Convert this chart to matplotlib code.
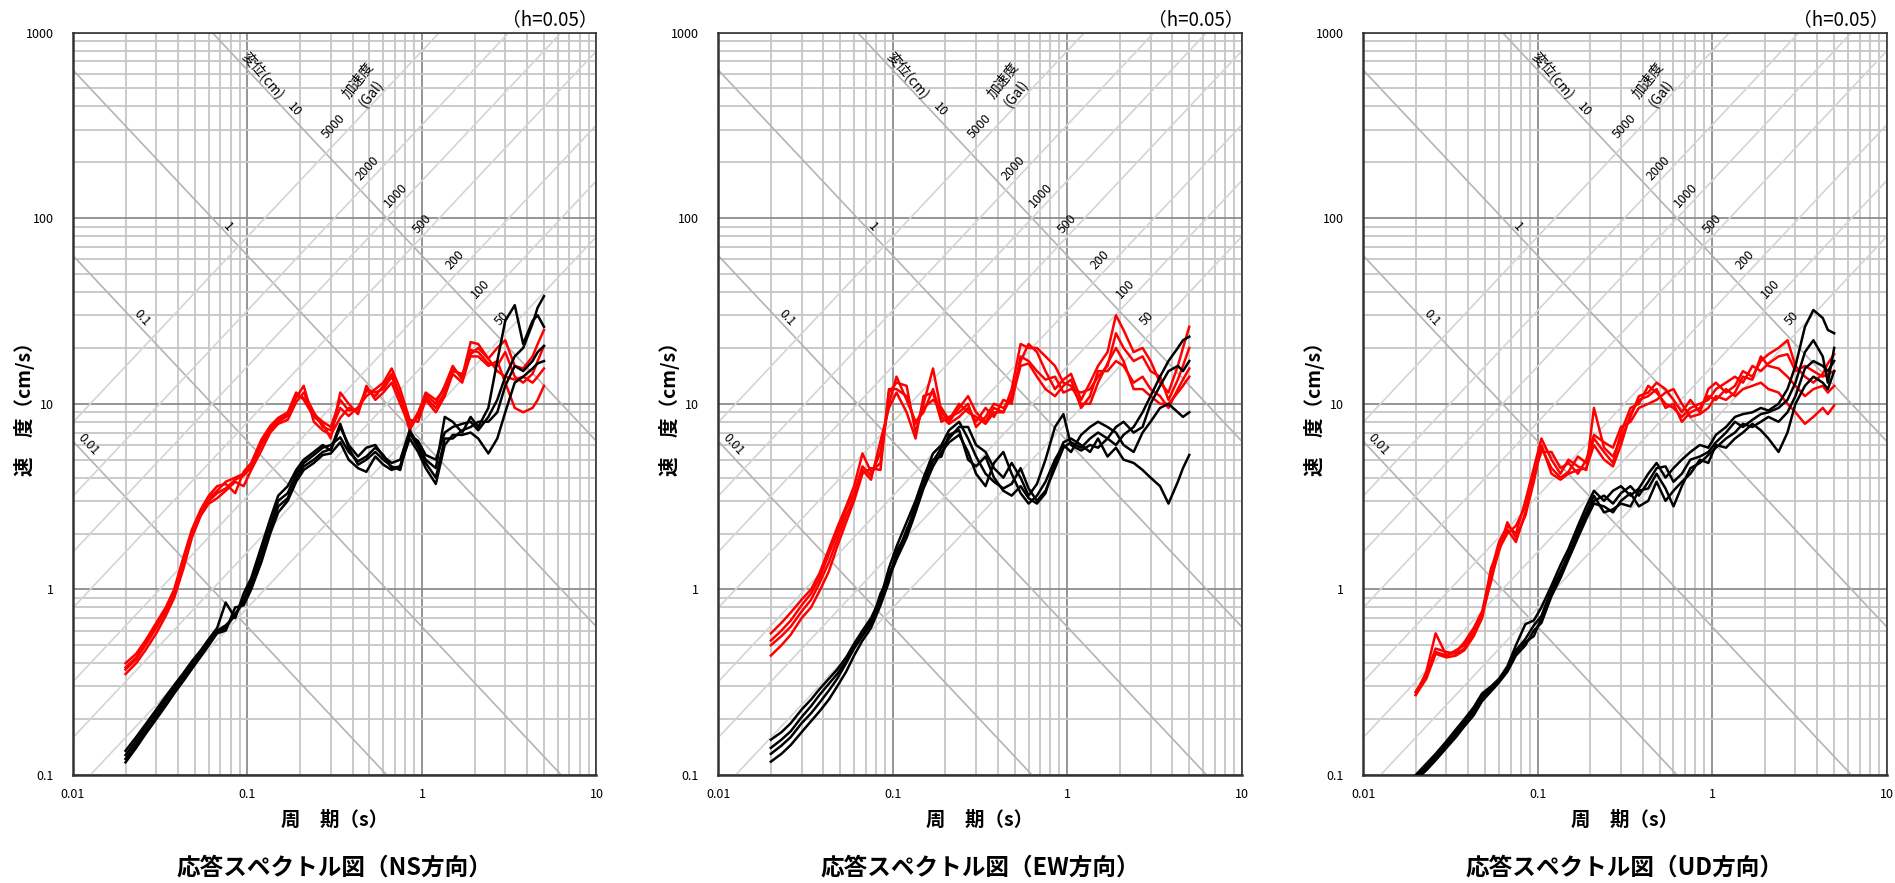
import numpy as np
import matplotlib
matplotlib.use("Agg")
import matplotlib.pyplot as plt
from matplotlib.ticker import FixedLocator, LogLocator, NullFormatter

plt.rcParams['font.family'] = ['Noto Sans CJK JP', 'DejaVu Sans']

# periods (s)
period = [0.02, 0.023, 0.026, 0.03, 0.034, 0.038, 0.043, 0.048, 0.054, 0.06,
          0.067, 0.075, 0.085, 0.095, 0.105, 0.12, 0.135, 0.15, 0.17, 0.19,
          0.21, 0.24, 0.27, 0.3, 0.34, 0.38, 0.43, 0.48, 0.54, 0.6,
          0.67, 0.75, 0.85, 0.95, 1.05, 1.2, 1.35, 1.5, 1.7, 1.9,
          2.1, 2.4, 2.7, 3.0, 3.4, 3.8, 4.3, 4.6, 5.0]

# ---- NS ----
ns_red = [
    [0.37, 0.42, 0.50, 0.62, 0.76, 0.95, 1.40, 2.00, 2.60, 3.00,
     3.30, 3.50, 3.90, 4.10, 4.60, 6.00, 7.20, 8.00, 8.60, 10.8,
     12.5, 8.00, 7.20, 6.80, 8.40, 9.50, 9.00, 11.8, 11.0, 12.5,
     14.5, 11.0, 7.80, 8.50, 10.8, 9.50, 11.5, 15.5, 14.0, 21.5,
     21.0, 17.5, 20.0, 22.0, 16.0, 15.5, 18.0, 21.0, 25.0],
    [0.40, 0.45, 0.53, 0.66, 0.80, 1.00, 1.50, 2.10, 2.70, 3.20,
     3.60, 3.70, 3.30, 4.30, 4.80, 6.40, 7.60, 8.40, 9.00, 11.5,
     10.5, 8.50, 7.80, 6.50, 11.5, 10.0, 8.80, 12.5, 10.5, 11.5,
     13.0, 10.0, 7.50, 9.00, 11.2, 10.0, 12.5, 16.0, 13.5, 19.5,
     19.0, 16.5, 16.0, 19.0, 14.0, 13.0, 14.5, 17.0, 20.5],
    [0.35, 0.40, 0.47, 0.58, 0.72, 0.90, 1.30, 1.90, 2.50, 2.90,
     3.10, 3.40, 3.80, 3.60, 4.40, 5.60, 7.00, 7.80, 8.20, 10.2,
     11.5, 9.00, 7.50, 7.20, 9.50, 8.60, 9.60, 11.0, 12.0, 13.0,
     15.5, 12.0, 8.20, 8.00, 10.5, 9.00, 11.0, 14.5, 13.0, 18.5,
     20.0, 17.5, 15.0, 14.0, 13.5, 14.0, 13.0, 14.0, 15.5],
    [0.38, 0.43, 0.51, 0.63, 0.78, 0.97, 1.45, 2.00, 2.60, 3.10,
     3.40, 3.80, 4.00, 4.20, 4.50, 6.20, 7.30, 8.20, 8.80, 11.0,
     10.8, 8.80, 8.00, 7.50, 10.5, 9.20, 9.40, 12.0, 11.5, 12.0,
     14.0, 10.8, 7.20, 8.80, 11.5, 10.5, 12.0, 15.0, 14.5, 18.0,
     18.0, 16.0, 17.0, 13.0, 9.50, 9.00, 9.50, 10.5, 12.5],
]
ns_black = [
    [0.135, 0.160, 0.187, 0.225, 0.265, 0.305, 0.355, 0.410, 0.470, 0.540,
     0.620, 0.850, 0.700, 0.950, 1.15, 1.70, 2.40, 3.20, 3.60, 4.40,
     5.00, 5.50, 6.00, 5.60, 7.50, 6.00, 5.20, 5.80, 6.00, 5.20,
     4.80, 5.00, 7.20, 6.00, 5.00, 4.50, 8.50, 8.00, 7.00, 8.50,
     7.50, 9.50, 17.0, 28.0, 34.0, 21.0, 28.0, 30.0, 26.0],
    [0.128, 0.153, 0.180, 0.216, 0.255, 0.295, 0.345, 0.398, 0.460, 0.525,
     0.600, 0.640, 0.720, 0.880, 1.10, 1.60, 2.20, 3.00, 3.30, 4.20,
     4.80, 5.30, 5.80, 6.00, 6.60, 5.50, 4.90, 5.20, 5.80, 5.30,
     4.50, 4.60, 6.80, 6.30, 5.30, 5.00, 7.00, 7.50, 7.80, 8.00,
     7.20, 8.50, 10.5, 14.0, 18.0, 20.0, 27.0, 33.0, 38.0],
    [0.122, 0.146, 0.172, 0.207, 0.244, 0.283, 0.332, 0.383, 0.445, 0.510,
     0.590, 0.620, 0.740, 0.850, 1.05, 1.50, 2.10, 2.80, 3.10, 4.00,
     4.60, 5.00, 5.50, 5.70, 7.80, 5.80, 4.70, 5.00, 5.50, 5.00,
     4.60, 4.40, 7.00, 5.80, 4.80, 4.00, 6.50, 6.50, 7.20, 7.50,
     8.00, 8.00, 9.00, 12.5, 16.0, 15.0, 17.0, 19.0, 20.5],
    [0.117, 0.140, 0.166, 0.200, 0.236, 0.275, 0.322, 0.373, 0.435, 0.500,
     0.580, 0.600, 0.800, 0.820, 1.00, 1.40, 2.00, 2.60, 3.00, 3.80,
     4.40, 4.80, 5.30, 5.40, 6.20, 5.00, 4.50, 4.30, 5.20, 4.70,
     4.40, 4.60, 6.50, 5.50, 4.50, 3.70, 6.00, 6.80, 6.80, 7.00,
     6.50, 5.40, 6.50, 9.00, 13.0, 14.0, 15.5, 16.5, 17.0],
]

# ---- EW ----
ew_red = [
    [0.58, 0.66, 0.75, 0.88, 1.00, 1.22, 1.65, 2.15, 2.80, 3.60,
     5.40, 4.30, 4.80, 11.5, 13.0, 12.5, 7.00, 10.0, 15.5, 9.00,
     8.00, 9.50, 11.0, 9.00, 8.00, 9.50, 9.00, 11.0, 17.0, 21.0,
     19.0, 15.0, 12.0, 13.5, 14.5, 10.5, 13.0, 16.0, 19.0, 30.0,
     25.0, 19.0, 20.0, 17.0, 13.0, 11.5, 16.0, 20.0, 26.0],
    [0.53, 0.60, 0.68, 0.82, 0.95, 1.15, 1.55, 2.00, 2.70, 3.30,
     4.60, 4.10, 5.50, 10.0, 14.0, 10.5, 8.00, 9.00, 12.0, 8.50,
     7.80, 8.50, 9.50, 8.00, 9.50, 8.50, 10.5, 10.0, 18.0, 17.0,
     15.0, 13.5, 14.0, 11.5, 12.0, 11.5, 12.0, 14.0, 16.0, 24.0,
     20.0, 17.0, 18.0, 15.0, 14.0, 10.5, 13.5, 16.0, 20.0],
    [0.50, 0.56, 0.63, 0.76, 0.88, 1.08, 1.40, 1.85, 2.50, 3.10,
     4.40, 3.90, 6.30, 9.50, 11.5, 9.00, 6.50, 11.0, 11.5, 8.00,
     8.50, 9.00, 10.0, 7.50, 8.50, 10.0, 9.50, 10.5, 16.0, 16.5,
     14.0, 12.0, 11.0, 12.5, 13.5, 9.50, 11.0, 15.0, 15.0, 17.0,
     16.0, 13.0, 14.0, 12.0, 11.0, 9.50, 12.0, 13.5, 15.5],
    [0.44, 0.50, 0.57, 0.70, 0.80, 0.98, 1.25, 1.70, 2.30, 3.00,
     4.20, 4.50, 4.40, 12.0, 12.0, 11.0, 7.80, 9.50, 10.5, 9.50,
     8.20, 10.0, 9.00, 8.50, 7.80, 9.00, 9.00, 12.0, 21.0, 20.0,
     20.0, 18.0, 16.0, 13.0, 12.5, 10.0, 10.0, 13.0, 16.5, 20.0,
     17.0, 12.0, 12.0, 11.0, 10.0, 10.0, 11.5, 12.5, 14.0],
]
ew_black = [
    [0.155, 0.170, 0.190, 0.225, 0.255, 0.290, 0.330, 0.370, 0.430, 0.510,
     0.600, 0.700, 0.900, 1.30, 1.70, 2.30, 3.00, 4.00, 5.40, 6.00,
     7.20, 8.00, 6.50, 5.20, 4.20, 3.80, 3.50, 3.70, 4.50, 3.50,
     3.00, 3.40, 4.50, 5.80, 6.20, 5.80, 6.50, 7.00, 6.50, 6.00,
     6.80, 7.50, 9.00, 11.0, 14.0, 17.0, 20.0, 22.0, 23.0],
    [0.140, 0.155, 0.172, 0.205, 0.235, 0.270, 0.310, 0.350, 0.410, 0.490,
     0.570, 0.680, 0.850, 1.20, 1.50, 2.10, 2.70, 3.70, 4.90, 5.80,
     6.50, 7.50, 7.50, 6.00, 5.50, 4.50, 4.00, 4.80, 4.00, 3.20,
     3.70, 5.00, 7.50, 8.80, 6.00, 5.60, 6.00, 5.80, 6.50, 7.50,
     8.00, 7.00, 7.50, 10.0, 12.5, 15.0, 16.0, 15.0, 17.0],
    [0.130, 0.144, 0.160, 0.190, 0.215, 0.245, 0.285, 0.330, 0.400, 0.480,
     0.560, 0.650, 0.950, 1.15, 1.45, 1.90, 2.60, 3.50, 4.60, 5.50,
     6.20, 6.80, 5.50, 4.20, 3.60, 4.80, 5.50, 4.20, 3.30, 2.90,
     3.20, 3.80, 5.00, 6.00, 5.50, 6.80, 7.50, 8.00, 7.50, 7.00,
     6.00, 5.50, 7.00, 8.00, 9.50, 10.0, 9.00, 8.50, 9.00],
    [0.118, 0.130, 0.145, 0.170, 0.195, 0.220, 0.255, 0.300, 0.360, 0.440,
     0.530, 0.620, 0.820, 1.10, 1.60, 2.00, 2.90, 3.80, 5.00, 5.20,
     6.80, 7.20, 5.00, 4.60, 5.20, 4.00, 3.40, 3.20, 3.60, 3.10,
     2.90, 3.30, 4.80, 6.20, 6.50, 6.00, 5.50, 6.50, 5.20, 5.80,
     5.00, 4.80, 4.40, 4.00, 3.60, 2.90, 3.80, 4.50, 5.30],
]

# ---- UD ----
ud_red = [
    [0.27, 0.36, 0.58, 0.44, 0.46, 0.52, 0.62, 0.76, 1.25, 1.80,
     2.20, 2.00, 3.00, 4.50, 6.50, 5.00, 4.20, 5.00, 4.60, 4.40,
     9.50, 5.80, 5.20, 6.50, 8.50, 11.0, 11.5, 13.0, 12.0, 10.5,
     9.00, 10.5, 9.00, 12.0, 13.0, 11.5, 12.5, 15.0, 14.0, 17.0,
     18.5, 20.0, 22.0, 16.0, 14.0, 13.0, 14.5, 16.5, 18.5],
    [0.28, 0.34, 0.46, 0.44, 0.47, 0.50, 0.60, 0.74, 1.10, 1.70,
     2.10, 1.80, 2.60, 4.00, 5.80, 4.50, 4.00, 4.30, 5.20, 4.80,
     6.50, 5.50, 4.80, 7.00, 9.50, 10.0, 12.5, 11.5, 10.0, 9.50,
     8.50, 9.50, 10.0, 10.5, 12.0, 13.0, 14.0, 13.0, 16.0, 15.0,
     16.5, 18.0, 18.5, 15.0, 16.0, 15.0, 14.0, 14.5, 15.0],
    [0.28, 0.35, 0.48, 0.46, 0.45, 0.48, 0.58, 0.72, 1.30, 1.65,
     2.00, 2.20, 2.80, 4.20, 5.50, 5.50, 4.50, 4.80, 4.20, 5.00,
     6.80, 6.20, 5.80, 7.50, 8.00, 9.50, 10.0, 10.5, 11.5, 12.0,
     10.0, 8.50, 8.80, 9.50, 11.0, 10.5, 11.5, 14.0, 13.5, 18.0,
     16.0, 15.5, 14.0, 12.5, 11.0, 12.0, 12.5, 11.5, 12.5],
    [0.27, 0.33, 0.45, 0.43, 0.44, 0.47, 0.56, 0.70, 1.15, 1.60,
     2.30, 1.90, 2.50, 3.80, 6.00, 4.20, 3.90, 4.20, 4.40, 4.50,
     6.00, 5.00, 4.60, 6.00, 8.80, 10.5, 11.0, 12.0, 9.50, 10.0,
     8.00, 9.00, 9.50, 11.0, 10.5, 12.0, 11.0, 12.0, 12.5, 13.0,
     12.0, 11.5, 10.0, 9.00, 7.80, 8.50, 9.50, 8.80, 9.80],
]
ud_black = [
    [0.100, 0.115, 0.130, 0.152, 0.176, 0.200, 0.232, 0.275, 0.300, 0.330,
     0.385, 0.500, 0.650, 0.680, 0.800, 1.05, 1.35, 1.65, 2.20, 2.80,
     3.40, 3.00, 3.40, 3.60, 3.20, 3.50, 4.20, 4.80, 4.00, 4.50,
     5.00, 5.50, 6.00, 5.80, 6.80, 7.50, 8.50, 8.80, 9.00, 9.50,
     9.20, 10.0, 12.0, 16.0, 26.0, 32.0, 29.0, 25.0, 24.0],
    [0.098, 0.112, 0.127, 0.148, 0.170, 0.195, 0.225, 0.268, 0.295, 0.325,
     0.375, 0.470, 0.540, 0.640, 0.720, 1.00, 1.25, 1.55, 2.00, 2.50,
     3.00, 3.20, 2.90, 3.30, 3.60, 3.20, 3.80, 4.50, 4.60, 3.80,
     4.20, 5.00, 5.20, 5.50, 6.20, 7.00, 8.00, 7.50, 8.20, 8.80,
     9.00, 9.50, 10.5, 13.0, 19.0, 22.0, 18.0, 13.0, 20.0],
    [0.096, 0.109, 0.123, 0.144, 0.166, 0.190, 0.218, 0.260, 0.290, 0.320,
     0.370, 0.450, 0.520, 0.560, 0.700, 0.95, 1.20, 1.50, 2.10, 2.60,
     3.20, 2.60, 2.70, 2.90, 2.80, 3.40, 3.50, 4.20, 3.50, 2.80,
     3.60, 4.50, 4.80, 5.30, 5.80, 6.50, 7.00, 7.80, 7.50, 8.00,
     8.50, 8.00, 9.00, 11.0, 15.5, 17.0, 16.0, 15.0, 17.0],
    [0.094, 0.106, 0.120, 0.140, 0.160, 0.183, 0.210, 0.250, 0.282, 0.315,
     0.360, 0.440, 0.500, 0.600, 0.660, 0.92, 1.15, 1.45, 1.90, 2.40,
     2.90, 2.80, 2.60, 3.00, 3.30, 2.80, 3.00, 3.80, 3.00, 3.40,
     3.80, 4.20, 5.00, 4.80, 6.00, 5.80, 6.50, 7.00, 7.80, 7.20,
     6.50, 5.50, 7.00, 10.0, 12.5, 14.0, 13.0, 12.0, 15.0],
]

panels = [("NS", ns_red, ns_black), ("EW", ew_red, ew_black), ("UD", ud_red, ud_black)]

# tripartite guide lines
disp_levels = [0.01, 0.1, 1, 10]            # cm
acc_levels = [50, 100, 200, 500, 1000, 2000, 5000]  # Gal
disp_label_pos = [(0.01216, 6.0), (0.02476, 28.9), (0.0767, 90.0), (0.186, 386.0)]
acc_label_pos = [(2.86, 28.9), (2.16, 41.8), (1.54, 59.5), (1.004, 93.0),
                 (0.705, 132.0), (0.489, 186.0), (0.313, 311.0)]

xticks = [0.01, 0.1, 1, 10]
xticklabels = ["0.01", "0.1", "1", "10"]
yticks = [0.1, 1, 10, 100, 1000]
yticklabels = ["0.1", "1", "10", "100", "1000"]

W, H = 1895, 883
fig = plt.figure(figsize=(W / 100, H / 100), dpi=100)
lefts = [73, 718.3, 1363.2]
tt = np.logspace(-2, 1, 80)

for i, (name, reds, blacks) in enumerate(panels):
    ax = fig.add_axes([lefts[i] / W, 1 - 775 / H, 523.5 / W, 742.4 / H])
    ax.set_xscale('log')
    ax.set_yscale('log')
    ax.set_xlim(0.01, 10)
    ax.set_ylim(0.1, 1000)
    ax.autoscale(False)

    ax.xaxis.set_major_locator(FixedLocator(xticks))
    ax.yaxis.set_major_locator(FixedLocator(yticks))
    ax.xaxis.set_minor_locator(LogLocator(base=10, subs=np.arange(2, 10)))
    ax.yaxis.set_minor_locator(LogLocator(base=10, subs=np.arange(2, 10)))
    ax.xaxis.set_minor_formatter(NullFormatter())
    ax.yaxis.set_minor_formatter(NullFormatter())
    ax.set_xticklabels(xticklabels, fontsize=9)
    ax.set_yticklabels(yticklabels, fontsize=9)
    ax.tick_params(which='both', length=0)
    ax.tick_params(axis='y', pad=14)
    ax.tick_params(axis='x', pad=9)
    ax.set_axisbelow(True)
    ax.grid(which='minor', color='#c6c6c6', lw=1.3)
    ax.grid(which='major', color='#8c8c8c', lw=1.3)
    for s in ax.spines.values():
        s.set_color('#333333')
        s.set_linewidth(1.2)
    ax.spines['bottom'].set_linewidth(1.8)
    ax.spines['left'].set_linewidth(1.8)

    for d in disp_levels:
        ax.plot(tt, 2 * np.pi * d / tt, color='#b4b4b4', lw=1.2, zorder=1.5)
    for a in acc_levels:
        ax.plot(tt, a * tt / (2 * np.pi), color='#d4d4d4', lw=1.2, zorder=1.5)

    for d, (x, y) in zip(disp_levels, disp_label_pos):
        ax.text(x, y, f"{d:g}", rotation=-47, fontsize=9, ha='center', va='center',
                rotation_mode='anchor', zorder=2)
    for a, (x, y) in zip(acc_levels, acc_label_pos):
        ax.text(x, y, f"{a}", rotation=47, fontsize=9, ha='center', va='center',
                rotation_mode='anchor', zorder=2)
    ax.text(0.1227, 591, "変位(cm)", rotation=-50, fontsize=10, ha='center', va='center',
            rotation_mode='anchor', zorder=2)
    ax.text(0.43, 556, "加速度", rotation=52, fontsize=10, ha='center', va='center',
            rotation_mode='anchor', zorder=2)
    ax.text(0.515, 470, "(Gal)", rotation=52, fontsize=10, ha='center', va='center',
            rotation_mode='anchor', zorder=2)

    for r in reds:
        ax.plot(period, r, color='#ff0000', lw=1.8, zorder=4)
    for b in blacks:
        ax.plot(period, b, color='#000000', lw=1.8, zorder=5)

    ax.text(1.003, 1.018, "（h=0.05）", transform=ax.transAxes, ha='right', va='center',
            fontsize=13.5)
    ax.text(0.5, -0.0606, "周　期（s）", transform=ax.transAxes, ha='center', va='center',
            fontsize=14, fontweight='bold')
    ax.text(-0.0927, 0.5, "速　度（cm/s）", transform=ax.transAxes, ha='center', va='center',
            rotation=90, fontsize=14, fontweight='bold')
    ax.text(0.5, -0.1253, f"応答スペクトル図（{name}方向）", transform=ax.transAxes,
            ha='center', va='center', fontsize=17, fontweight='bold')

fig.savefig("out.png", dpi=100)
